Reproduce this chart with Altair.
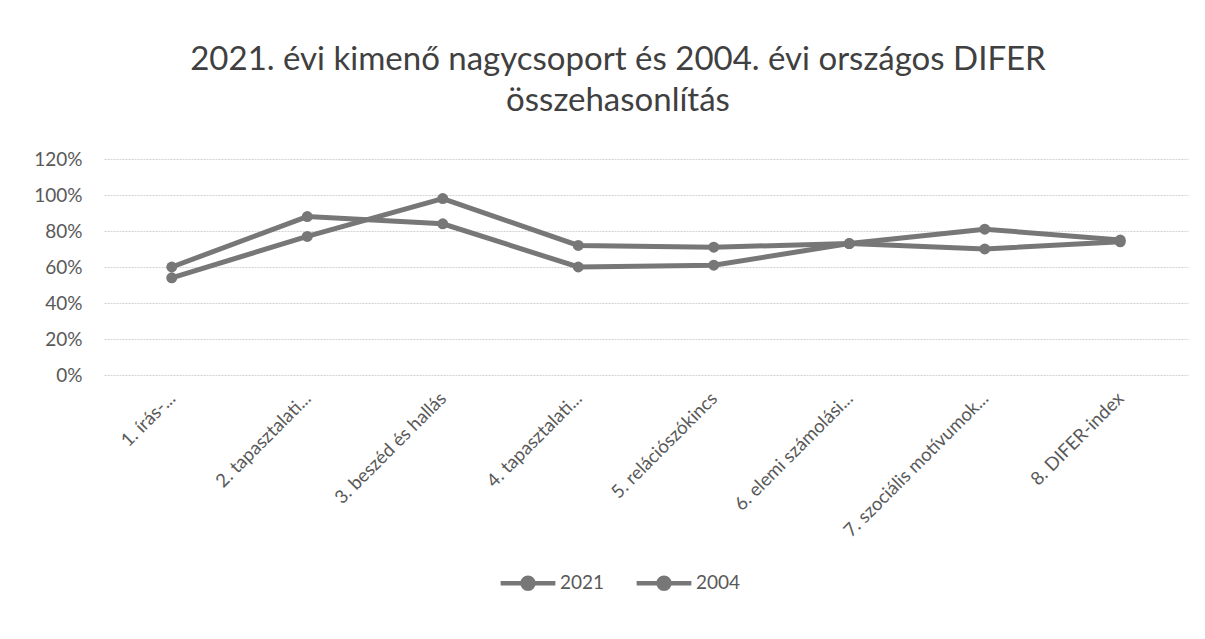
import altair as alt
import pandas as pd

categories = [
    "1. írás-...",
    "2. tapasztalati...",
    "3. beszéd és hallás",
    "4. tapasztalati...",
    "5. relációszókincs",
    "6. elemi számolási...",
    "7. szociális motívumok...",
    "8. DIFER-index",
]
values_2021 = [0.60, 0.88, 0.84, 0.60, 0.61, 0.73, 0.81, 0.75]
values_2004 = [0.54, 0.77, 0.98, 0.72, 0.71, 0.73, 0.70, 0.74]
series = ["2021", "2004"]

rows = []
for c, v in zip(categories, values_2021):
    rows.append({"cat": c, "value": v, "series": "2021"})
for c, v in zip(categories, values_2004):
    rows.append({"cat": c, "value": v, "series": "2004"})
df = pd.DataFrame(rows)

grey = "#777777"
font = "Lato"

x = alt.X(
    "cat:N",
    sort=categories,
    scale=alt.Scale(type="point", padding=0.5),
    axis=alt.Axis(
        title=None, labelAngle=-45, labelAlign="right", labelBaseline="middle",
        labelFontSize=18.5, labelColor="#595959", labelFont=font,
        domain=False, ticks=False, grid=False, labelPadding=20, labelLimit=400,
    ),
)
y = alt.Y(
    "value:Q",
    scale=alt.Scale(domain=[0, 1.2], nice=False),
    axis=alt.Axis(
        title=None, format="%", values=[0, 0.2, 0.4, 0.6, 0.8, 1.0, 1.2],
        labelFontSize=19, labelColor="#595959", labelFont=font,
        domain=False, ticks=False, labelPadding=22,
        gridColor="#d2d2d2", gridWidth=1.2, gridDash=[2, 1],
    ),
)
color = alt.Color(
    "series:N",
    sort=series,
    scale=alt.Scale(domain=series, range=[grey, grey]),
    legend=alt.Legend(
        title=None, orient="none", direction="horizontal",
        legendX=394, legendY=394,
        symbolType="M-1,0L-0.2,0M0.2,0L1,0M0.2,0A0.2,0.2 0 1 1 -0.2,0A0.2,0.2 0 1 1 0.2,0",
        symbolSize=3000, symbolStrokeWidth=4.5, symbolStrokeColor=grey, symbolFillColor=grey,
        labelFontSize=19, labelColor="#595959", labelFont=font, labelOffset=2,
        columnPadding=22,
    ),
)

lines = alt.Chart(df).mark_line(strokeWidth=5).encode(x=x, y=y, color=color, detail="series:N")
points = alt.Chart(df).mark_circle(size=120, opacity=1).encode(x=x, y=y, color=color)

chart = (
    alt.layer(lines, points)
    .properties(
        width=1084,
        height=216,
        background="white",
        autosize=alt.AutoSizeParams(type="none"),
        padding={"left": 96, "top": 151, "right": 9, "bottom": 256},
        title=alt.TitleParams(
            text=["2021. évi kimenő nagycsoport és 2004. évi országos DIFER", "összehasonlítás"],
            fontSize=33, font=font, fontWeight="normal", color="#404040",
            anchor="middle", dx=-28, offset=32, lineHeight=41,
        ),
    )
    .configure_view(strokeWidth=0, stroke=None)
)

chart.save("out.html", embed_options={"renderer": "svg", "actions": False})
